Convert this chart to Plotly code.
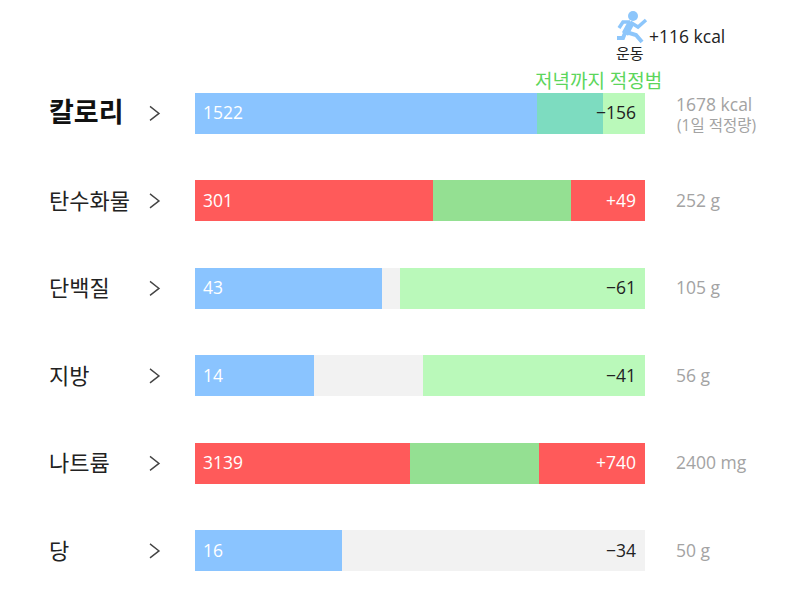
import plotly.graph_objects as go

W, H = 800, 589
FONT = "Open Sans, Noto Sans CJK KR"

# One row per nutrient, top to bottom
nutrients = ["칼로리", "탄수화물", "단백질", "지방", "나트륨", "당"]
eaten = [1522, 301, 43, 14, 3139, 16]
middle = [294, 174.5, 4.1, 12.8, 1883, 0]
remainder = [187, 93.6, 56.3, 26.1, 1548, 33]
deltas = ["−156", "+49", "−61", "−41", "+740", "−34"]
targets = ["1678 kcal", "252 g", "105 g", "56 g", "2400 mg", "50 g"]

BLUE, RED = "#8AC4FF", "#FF5A5A"
TEAL, GREEN, LIGHT, GRAY = "#7DDCC0", "#94E092", "#BAF9BA", "#F2F2F2"
eaten_colors = [BLUE, RED, BLUE, BLUE, RED, BLUE]
middle_colors = [TEAL, GREEN, GRAY, GRAY, GREEN, GRAY]
remainder_colors = [LIGHT, RED, LIGHT, LIGHT, RED, GRAY]
delta_colors = ["#222222", "#FFFFFF", "#222222", "#222222", "#FFFFFF", "#222222"]

# Each row has its own unit, so every bar is stacked as a share of its own total
totals = [a + b + c for a, b, c in zip(eaten, middle, remainder)]


def share(values):
    return [v / t for v, t in zip(values, totals)]


fig = go.Figure()
for values, colors in [(eaten, eaten_colors), (middle, middle_colors), (remainder, remainder_colors)]:
    fig.add_trace(go.Bar(
        x=share(values), y=nutrients, orientation="h",
        marker=dict(color=colors, line_width=0), hoverinfo="skip",
    ))


def px(x):
    return x / W


def py(y):
    return 1 - y / H


def label(text, x, y, size, color="#222222", anchor="left", yref="paper", dy=0):
    fig.add_annotation(
        text=text, x=px(x), y=y if yref == "y" else py(y), xref="paper", yref=yref,
        xanchor=anchor, yanchor="middle", showarrow=False, borderpad=0, yshift=-dy,
        font=dict(family=FONT, size=size, color=color),
    )


for i, name in enumerate(nutrients):
    if i == 0:
        label(f"<b>{name}</b>", 48, i, 27, "#111111", yref="y", dy=-2)
    else:
        label(name, 48, i, 22, "#222222", yref="y", dy=-1)
    label(str(eaten[i]), 202, i, 17.5, "#FFFFFF", yref="y", dy=-1)
    label(deltas[i], 637, i, 17.5, delta_colors[i], anchor="right", yref="y", dy=-1)
    if i:
        label(targets[i], 675, i, 17.5, "#A3A3A3", yref="y", dy=-1)

# Calorie row carries a second line under its target
label(targets[0], 675, 104, 17.5, "#A3A3A3")
label("(1일 적정량)", 676, 125, 15.5, "#A3A3A3")

# Exercise badge and the evening range caption
label("+116 kcal", 648, 36, 17.5, "#222222")
label("운동", 630, 53, 15, "#222222", anchor="center")
label("저녁까지 적정범", 598, 81, 19, "#5CD65C", anchor="center")

ROW_TOP, ROW_PITCH = 113.4, 87.5
shapes = []


def stroke(points, color, width):
    d = "M " + " L ".join(f"{px(x):.5f} {py(y):.5f}" for x, y in points)
    shapes.append(dict(type="path", path=d, xref="paper", yref="paper",
                       line=dict(color=color, width=width), layer="above"))


# Row disclosure chevrons
for i in range(len(nutrients)):
    cy = ROW_TOP + i * ROW_PITCH
    stroke([(150, cy - 7), (159, cy), (150, cy + 7)], "#444444", 1.4)

# Runner icon
ICON = "#8DC6FB"
shapes.append(dict(type="circle", xref="paper", yref="paper", fillcolor=ICON, line_width=0,
                   x0=px(628), x1=px(638), y0=py(21), y1=py(11)))
stroke([(631, 23), (625, 34)], ICON, 7)
stroke([(630, 22), (638, 27), (646, 20)], ICON, 3.5)
stroke([(630, 22), (623, 22), (619, 28)], ICON, 3.5)
stroke([(626, 32), (636, 35), (642, 42)], ICON, 4)
stroke([(625, 33), (623, 38), (617, 38)], ICON, 4)

fig.update_layout(
    width=W, height=H, barmode="stack", bargap=1 - 41 / ROW_PITCH, showlegend=False,
    margin=dict(l=0, r=0, t=0, b=0), paper_bgcolor="white", plot_bgcolor="white",
    shapes=shapes,
    xaxis=dict(domain=[px(195), px(645)], range=[0, 1], visible=False),
    yaxis=dict(
        domain=[0, 1], visible=False, categoryorder="array", categoryarray=nutrients,
        range=[(H - ROW_TOP) / ROW_PITCH, -ROW_TOP / ROW_PITCH],
    ),
)
fig.write_html("out.html", config=dict(displayModeBar=False))
